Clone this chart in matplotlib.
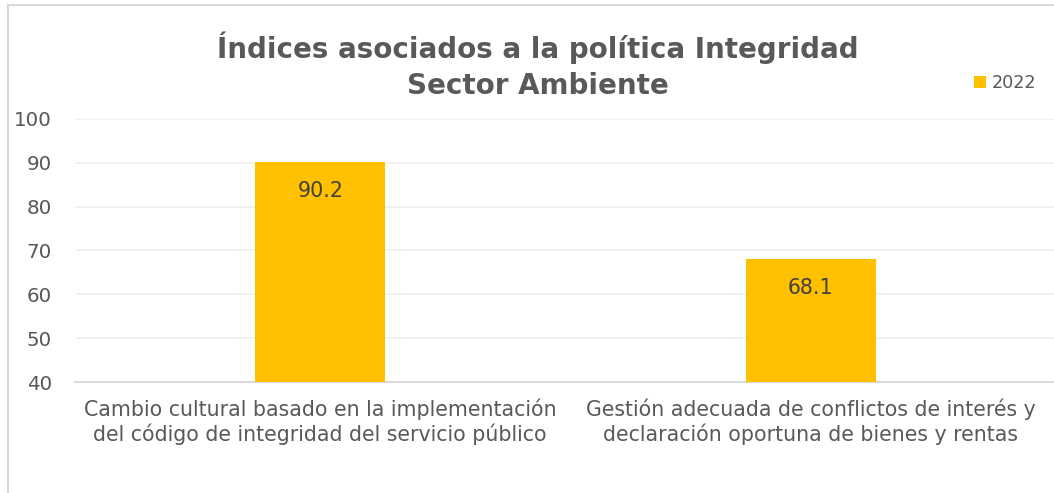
import matplotlib.pyplot as plt
from matplotlib.patches import Rectangle

plt.rcParams['font.family'] = ['DejaVu Sans']

# Datos del gráfico
categorias = [
    'Cambio cultural basado en la implementación\ndel código de integridad del servicio público',
    'Gestión adecuada de conflictos de interés y\ndeclaración oportuna de bienes y rentas',
]
valores_2022 = [90.2, 68.1]
serie = '2022'
titulo = 'Índices asociados a la política Integridad\nSector Ambiente'

texto = '#595959'
amarillo = '#FFC000'

fig = plt.figure(figsize=(10.54, 4.93), dpi=100)

# borde del área del gráfico
fig.patches.append(Rectangle((8 / 1054, -0.1), 1.2, 1 - 5 / 493 + 0.1, transform=fig.transFigure,
                             fill=False, edgecolor='#D9D9D9', linewidth=1.5))

ax = fig.add_axes([75 / 1054, 1 - 382 / 493, 981 / 1054, 263 / 493])
x = range(len(categorias))
bars = ax.bar(x, valores_2022, width=0.265, color=amarillo, label=serie, zorder=3)

ax.set_ylim(40, 100)
ax.set_xlim(-0.5, 1.5)
ax.set_yticks(range(40, 101, 10))
ax.yaxis.grid(True, color='#F0F0F0', linewidth=1.3, zorder=0)
ax.set_xticks(list(x))
ax.set_xticklabels(categorias, fontsize=14.8, color=texto, linespacing=1.2)
ax.tick_params(axis='both', length=0, labelcolor=texto)
ax.tick_params(axis='x', pad=12)
ax.tick_params(axis='y', pad=16.5, labelsize=14.3)
for s in ['top', 'right', 'left']:
    ax.spines[s].set_visible(False)
ax.spines['bottom'].set_color('#D9D9D9')
ax.spines['bottom'].set_linewidth(1.5)

for b, v in zip(bars, valores_2022):
    ax.annotate(f'{v:.1f}', (b.get_x() + b.get_width() / 2, v), xytext=(0, -21),
                textcoords='offset points', ha='center', va='center',
                fontsize=14.8, color='#404040')

fig.text(538 / 1054, 1 - 66 / 493, titulo, ha='center', va='center', fontsize=20,
         fontweight='bold', color=texto, linespacing=1.35)

fig.legend(loc='center', bbox_to_anchor=(1005 / 1054, 1 - 83 / 493), frameon=False,
           fontsize=12.7, labelcolor=texto, handlelength=0.7, handleheight=0.7,
           handletextpad=0.3)

fig.savefig('out.png', dpi=100)
